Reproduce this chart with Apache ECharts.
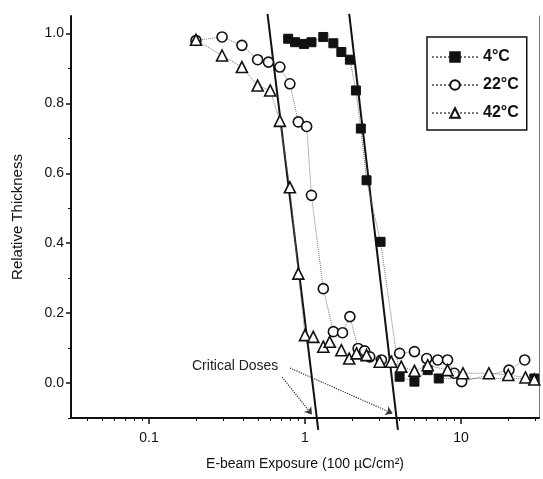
<!DOCTYPE html>
<html>
<head>
<meta charset="utf-8">
<script src="https://cdn.jsdelivr.net/npm/echarts@6/dist/echarts.min.js"></script>
<style>
  html, body { margin: 0; padding: 0; background: #fff; }
  #chart { width: 543px; height: 479px; }
</style>
</head>
<body>
<div id="chart"></div>
<script>
// 4°C (filled squares)
const x4  = [0.78, 0.863, 0.985, 1.10, 1.31, 1.52, 1.71, 1.94, 2.12, 2.28, 2.48, 3.05, 4.04, 5.03, 6.12, 7.2, 29.5];
const y4  = [0.985, 0.975, 0.97, 0.975, 0.99, 0.972, 0.947, 0.925, 0.837, 0.728, 0.58, 0.404, 0.018, 0.004, 0.037, 0.013, 0.013];
// 22°C (open circles)
const x22 = [0.20, 0.294, 0.394, 0.497, 0.583, 0.69, 0.80, 0.906, 1.025, 1.10, 1.31, 1.52, 1.74, 1.94, 2.19, 2.41, 2.60, 3.09, 4.04, 5.03, 6.03, 7.1, 8.2, 9.06, 10.1, 20.3, 25.6];
const y22 = [0.98, 0.99, 0.966, 0.925, 0.918, 0.904, 0.856, 0.747, 0.734, 0.537, 0.27, 0.147, 0.144, 0.19, 0.099, 0.092, 0.075, 0.066, 0.085, 0.09, 0.07, 0.066, 0.066, 0.028, 0.004, 0.037, 0.066];
// 42°C (open triangles)
const x42 = [0.20, 0.294, 0.394, 0.497, 0.598, 0.69, 0.80, 0.906, 1.0, 1.13, 1.31, 1.44, 1.71, 1.92, 2.14, 2.48, 3.01, 3.57, 4.14, 5.03, 6.12, 8.2, 10.3, 15.1, 20.1, 25.9, 29.5];
const y42 = [0.982, 0.937, 0.904, 0.851, 0.837, 0.75, 0.56, 0.313, 0.137, 0.132, 0.104, 0.118, 0.094, 0.07, 0.085, 0.08, 0.061, 0.061, 0.047, 0.035, 0.051, 0.037, 0.028, 0.028, 0.023, 0.016, 0.01];
// critical dose fit lines
const fitLeftX  = [0.575, 1.216];
const fitLeftY  = [1.056, -0.134];
const fitRightX = [1.92, 3.94];
const fitRightY = [1.056, -0.134];

const xMajor = [0.1, 1, 10];
const xMinor = [];
[0.01, 0.1, 1, 10].forEach(d => { for (let k = 2; k <= 9; k++) xMinor.push(+(d * k).toPrecision(3)); });
const yMajor = [0, 0.2, 0.4, 0.6, 0.8, 1.0];
const yMinor = [-0.1, 0.1, 0.3, 0.5, 0.7, 0.9];

const FONT = 'Liberation Sans, Arial, sans-serif';
const pairs = (xs, ys) => xs.map((x, i) => [x, ys[i]]);
const XMIN = Math.pow(10, -1.5), XMAX = Math.pow(10, 1.5);

const chart = echarts.init(document.getElementById('chart'), null, { renderer: 'canvas' });

const connector = { type: 'dotted', color: '#777', width: 1 };

chart.setOption({
    backgroundColor: '#fff',
    animation: false,
    textStyle: { fontFamily: FONT, color: '#111' },
    grid: { left: 71, right: 4, top: 16, bottom: 61 },
    legend: {
        left: 427, top: 37, orient: 'vertical',
        borderColor: '#111', borderWidth: 1.5, borderRadius: 0,
        padding: [12, 8, 9, 4],
        itemWidth: 46, itemHeight: 12, itemGap: 12,
        textStyle: { fontSize: 16, fontWeight: 'bold', color: '#111', fontFamily: FONT },
        data: ['4°C', '22°C', '42°C']
    },
    xAxis: [{
        type: 'log', logBase: 10, min: XMIN, max: XMAX,
        name: 'E-beam Exposure (100 \u00b5C/cm\u00b2)', nameLocation: 'middle', nameGap: 39,
        nameTextStyle: { fontSize: 14, color: '#111' },
        axisLine: { onZero: false, lineStyle: { color: '#111', width: 2 } },
        axisTick: { inside: false, length: 6, lineStyle: { width: 1.5, color: '#111' }, customValues: xMajor },
        axisLabel: { fontSize: 14, color: '#111', margin: 13, customValues: xMajor,
                     formatter: v => String(+v.toPrecision(3)) },
        splitLine: { show: false }
    }, {
        type: 'log', logBase: 10, min: XMIN, max: XMAX, position: 'bottom',
        axisLine: { show: false, onZero: false },
        axisTick: { inside: false, length: 3, lineStyle: { width: 1, color: '#111' }, customValues: xMinor },
        axisLabel: { show: false },
        splitLine: { show: false }
    }],
    yAxis: [{
        type: 'value', min: -0.1, max: 1.05, interval: 0.2,
        name: 'Relative Thickness', nameLocation: 'middle', nameGap: 46,
        nameTextStyle: { fontSize: 15, color: '#111' },
        axisLine: { show: true, onZero: false, lineStyle: { color: '#111', width: 2 } },
        axisTick: { inside: false, length: 5, lineStyle: { width: 1.5, color: '#111' }, customValues: yMajor },
        axisLabel: { fontSize: 14, color: '#111', margin: 7, customValues: yMajor,
                     formatter: v => v.toFixed(1) },
        splitLine: { show: false }
    }, {
        type: 'value', min: -0.1, max: 1.05, position: 'left',
        axisLine: { show: false, onZero: false },
        axisTick: { inside: false, length: 3, lineStyle: { width: 1, color: '#111' }, customValues: yMinor },
        axisLabel: { show: false },
        splitLine: { show: false }
    }, {
        type: 'value', min: -0.1, max: 1.05, position: 'right',
        axisLine: { show: true, onZero: false, lineStyle: { color: '#777', width: 1 } },
        axisTick: { show: false }, axisLabel: { show: false }, splitLine: { show: false }
    }],
    graphic: [{
        type: 'text', left: 192, top: 359,
        style: { text: 'Critical Doses', fontSize: 14, fill: '#222', fontFamily: FONT }
    }],
    series: [{
        name: '4°C', type: 'line', data: pairs(x4, y4),
        symbol: 'rect', symbolSize: 9,
        itemStyle: { color: '#111', borderColor: '#111', borderWidth: 1 },
        lineStyle: connector, z: 3
    }, {
        name: '22°C', type: 'line', data: pairs(x22, y22),
        symbol: 'circle', symbolSize: 10,
        itemStyle: { color: '#fff', borderColor: '#111', borderWidth: 1.6 },
        lineStyle: connector, z: 3
    }, {
        name: '42°C', type: 'line', data: pairs(x42, y42),
        symbol: 'triangle', symbolSize: 11,
        itemStyle: { color: '#fff', borderColor: '#111', borderWidth: 1.6 },
        lineStyle: connector, z: 4
    }, {
        name: 'fitLeft', type: 'line', data: pairs(fitLeftX, fitLeftY),
        symbol: 'none', clip: false, silent: true,
        lineStyle: { color: '#111', width: 2 }, z: 2
    }, {
        name: 'fitRight', type: 'line', data: pairs(fitRightX, fitRightY),
        symbol: 'none', clip: false, silent: true,
        lineStyle: { color: '#111', width: 2 }, z: 2,
        markLine: {
            silent: true, symbol: ['none', 'arrow'], symbolSize: 7,
            label: { show: false },
            lineStyle: { type: 'dotted', color: '#333', width: 1.2 },
            data: [
                [{ coord: [0.713, 0.017] }, { coord: [1.108, -0.09] }],
                [{ coord: [0.80, 0.043] }, { coord: [3.65, -0.087] }]
            ]
        }
    }]
});

window.addEventListener('resize', () => chart.resize());
</script>
</body>
</html>
